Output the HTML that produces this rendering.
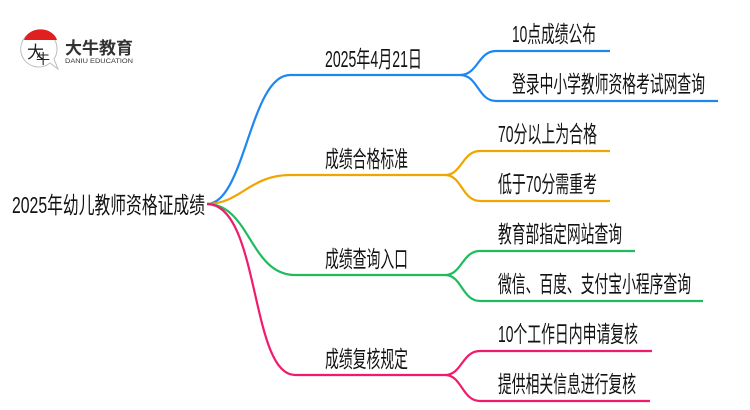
<!DOCTYPE html>
<html><head><meta charset="utf-8"><style>
html,body{margin:0;padding:0;background:#fff;width:750px;height:410px;overflow:hidden}
svg text{font-family:"Liberation Sans","Noto Sans CJK SC",sans-serif;fill:#111}
</style></head><body>
<svg width="750" height="410" viewBox="0 0 750 410" xmlns="http://www.w3.org/2000/svg">
<path d="M38 31 a18 18 0 1 0 12 32 l8 6 l-4 -10 a18 18 0 0 0 -16 -28z" fill="#fff" stroke="#bbb" stroke-width="1"/>
<path d="M24 40 a17 14 0 0 1 33 0 z" fill="#e02020"/>
<text x="27" y="58" font-size="17" style="fill:#222">大</text>
<text x="36" y="64" font-size="14" style="fill:#222">牛</text>
<text x="65" y="54" font-size="17" font-weight="bold" textLength="68" lengthAdjust="spacingAndGlyphs" style="fill:#333">大牛教育</text>
<text x="65" y="63" font-size="6.5" textLength="68" lengthAdjust="spacingAndGlyphs" style="fill:#333">DANIU EDUCATION</text>
<g fill="none" stroke-width="2.2">
<path d="M207 204 C245 204 250 75 290 75 L460 75" stroke="#1e88f0"/>
<path d="M460 75 C478 75 478 51 496 51 L610 51 M460 75 C478 75 478 101 496 101 L718 101" stroke="#1e88f0"/>
<path d="M207 204 C240 204 250 175 290 175 L445 175" stroke="#f0a500"/>
<path d="M445 175 C462 175 462 151 480 151 L610 151 M445 175 C462 175 462 201 480 201 L610 201" stroke="#f0a500"/>
<path d="M207 204 C250 204 250 275 295 275 L445 275" stroke="#1fbb5e"/>
<path d="M445 275 C462 275 462 251 480 251 L635 251 M445 275 C462 275 462 301 480 301 L703 301" stroke="#1fbb5e"/>
<path d="M207 204 C260 204 250 375 295 375 L445 375" stroke="#f01b6c"/>
<path d="M445 375 C462 375 462 351 480 351 L652 351 M445 375 C462 375 462 401 480 401 L650 401" stroke="#f01b6c"/>
</g>
<g font-size="23">
<text x="12" y="213" textLength="193" lengthAdjust="spacingAndGlyphs">2025年幼儿教师资格证成绩</text>
<text x="325" y="67" textLength="97" lengthAdjust="spacingAndGlyphs">2025年4月21日</text>
<text x="325" y="167" textLength="83" lengthAdjust="spacingAndGlyphs">成绩合格标准</text>
<text x="325" y="267" textLength="83" lengthAdjust="spacingAndGlyphs">成绩查询入口</text>
<text x="325" y="367" textLength="83" lengthAdjust="spacingAndGlyphs">成绩复核规定</text>
<text x="512" y="42" textLength="84" lengthAdjust="spacingAndGlyphs">10点成绩公布</text>
<text x="512" y="92" textLength="193" lengthAdjust="spacingAndGlyphs">登录中小学教师资格考试网查询</text>
<text x="498" y="142" textLength="99" lengthAdjust="spacingAndGlyphs">70分以上为合格</text>
<text x="498" y="192" textLength="99" lengthAdjust="spacingAndGlyphs">低于70分需重考</text>
<text x="498" y="242" textLength="124" lengthAdjust="spacingAndGlyphs">教育部指定网站查询</text>
<text x="498" y="292" textLength="193" lengthAdjust="spacingAndGlyphs">微信、百度、支付宝小程序查询</text>
<text x="498" y="342" textLength="140" lengthAdjust="spacingAndGlyphs">10个工作日内申请复核</text>
<text x="498" y="392" textLength="138" lengthAdjust="spacingAndGlyphs">提供相关信息进行复核</text>
</g>
</svg>
</body></html>
